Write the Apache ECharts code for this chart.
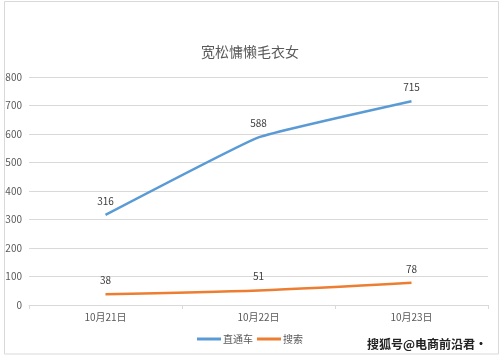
<!DOCTYPE html>
<html><head><meta charset="utf-8">
<script src="https://cdn.jsdelivr.net/npm/echarts@6/dist/echarts.min.js"></script>
<style>html,body{margin:0;padding:0;background:#fff}#c{width:500px;height:356px}</style>
</head><body><div id="c"></div>
<script>
var categories = ['10月21日', '10月22日', '10月23日'];
var seriesNames = ['直通车', '搜索'];
var ztcValues = [316, 588, 715];
var searchValues = [38, 51, 78];
var yTicks = [0, 100, 200, 300, 400, 500, 600, 700, 800];

var font = '"Noto Sans CJK SC", "Microsoft YaHei", sans-serif';
var chart = echarts.init(document.getElementById('c'), null, {renderer: 'canvas'});
chart.setOption({
  backgroundColor: '#fff',
  animation: false,
  title: {
    text: '宽松慵懒毛衣女', left: 'center', top: 40,
    textStyle: {fontFamily: font, fontSize: 14, fontWeight: 'normal', color: '#595959'}
  },
  legend: {
    data: seriesNames, left: 'center', bottom: 7, itemWidth: 24, itemHeight: 3, itemGap: 4,
    icon: 'rect',
    textStyle: {fontFamily: font, fontSize: 10, color: '#595959', padding: [0, 0, 0, -3]}
  },
  grid: {left: 29, right: 12, top: 77, bottom: 51, containLabel: false},
  xAxis: {
    type: 'category', data: categories, boundaryGap: true,
    axisLine: {lineStyle: {color: '#d9d9d9'}},
    axisTick: {show: true, length: 4, lineStyle: {color: '#d9d9d9'}},
    axisLabel: {fontFamily: font, fontSize: 10, color: '#595959', margin: 7}
  },
  yAxis: {
    type: 'value', min: yTicks[0], max: yTicks[yTicks.length - 1], interval: 100,
    axisLine: {show: false}, axisTick: {show: false},
    splitLine: {lineStyle: {color: '#d9d9d9'}},
    axisLabel: {fontFamily: font, fontSize: 10, color: '#595959', margin: 7}
  },
  series: [
    {
      name: seriesNames[0], type: 'line', data: ztcValues, smooth: 0.1,
      symbol: 'circle', symbolSize: 0.1, showSymbol: true,
      lineStyle: {width: 2.5, color: '#5B9BD5'}, itemStyle: {color: '#5B9BD5'},
      label: {show: true, position: 'top', distance: 9, fontFamily: font, fontSize: 10, color: '#404040'}
    },
    {
      name: seriesNames[1], type: 'line', data: searchValues, smooth: 0.3,
      symbol: 'circle', symbolSize: 0.1, showSymbol: true,
      lineStyle: {width: 2.5, color: '#ED7D31'}, itemStyle: {color: '#ED7D31'},
      label: {show: true, position: 'top', distance: 9, fontFamily: font, fontSize: 10, color: '#404040'}
    }
  ],
  graphic: [
    {type: 'rect', shape: {x: 4.5, y: 1.5, width: 494, height: 352.5}, style: {fill: 'none', stroke: '#d9d9d9', lineWidth: 1}, silent: true},
    {type: 'text', right: 12, bottom: 5, style: {text: '搜狐号@电商前沿君·', fontFamily: font, fontSize: 12, fontWeight: 'bold', fill: '#222', stroke: '#fff', lineWidth: 2}}
  ]
});
</script></body></html>
